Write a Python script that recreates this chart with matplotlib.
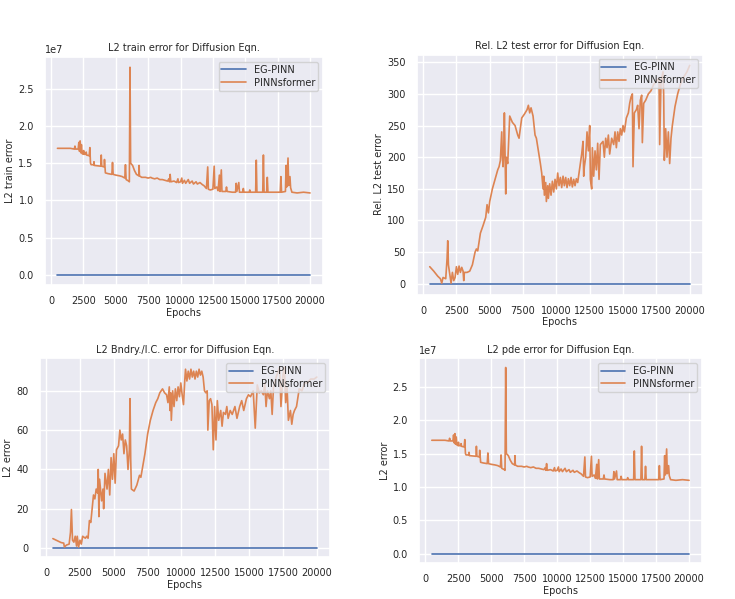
import numpy as np
import matplotlib
matplotlib.use('Agg')
import matplotlib.pyplot as plt
import seaborn as sns

# EG-PINN stays at ~0 for all curves
eg_epochs = [500, 20000]
eg_vals = [0.0, 0.0]

# PINNsformer: train error (units of 1e7) -- pde error curve looks identical
train_epochs = [500, 1000, 1500, 1800, 1850, 1900, 2100, 2150, 2200, 2250, 2300, 2350, 2400, 2500, 2520, 2550,
                2700, 2720, 2750, 2950, 3000, 3050, 3100, 3300, 3320, 3350, 3850, 3880, 3920, 4100, 4130, 4200,
                4400, 4700, 4750, 4800, 5000, 5300, 5500, 5700, 5750, 5800, 5900, 6000, 6050, 6100, 6150, 6300,
                6450, 6600, 6780, 6800, 6830, 7000, 7300, 7500, 7700, 7800, 8000, 8200, 8400, 8600, 8800, 9000,
                9100, 9150, 9200, 9250, 9500, 9700, 9800, 9850, 10000, 10100, 10150, 10300, 10400, 10600, 10700,
                10900, 11000, 11200, 11300, 11500, 11700, 11800, 11900, 12000, 12100, 12150, 12300, 12500, 12600,
                12650, 12800, 12900, 13000, 13050, 13150, 13200, 13500, 13550, 13600, 14000, 14250, 14300, 14350,
                14500, 14550, 14800, 14850, 14900, 15300, 15350, 15400, 15800, 15850, 15900, 16350, 16400, 16450,
                16650, 16700, 16750, 17700, 17750, 17800, 18100, 18150, 18200, 18300, 18350, 18450, 18500, 18600,
                19000, 19500, 20000]
train_vals = [1.70, 1.70, 1.70, 1.69, 1.73, 1.69, 1.69, 1.78, 1.66, 1.80, 1.64, 1.75, 1.63, 1.62, 1.67, 1.62,
              1.62, 1.65, 1.61, 1.60, 1.71, 1.50, 1.48, 1.48, 1.52, 1.47, 1.46, 1.61, 1.46, 1.45, 1.55, 1.37,
              1.36, 1.35, 1.51, 1.35, 1.34, 1.33, 1.32, 1.30, 1.48, 1.28, 1.27, 1.26, 1.25, 2.79, 1.50, 1.47,
              1.40, 1.35, 1.33, 1.47, 1.33, 1.31, 1.31, 1.30, 1.31, 1.30, 1.29, 1.30, 1.28, 1.28, 1.27, 1.26,
              1.29, 1.25, 1.35, 1.25, 1.26, 1.24, 1.29, 1.24, 1.25, 1.30, 1.23, 1.27, 1.23, 1.28, 1.23,
              1.26, 1.22, 1.25, 1.22, 1.24, 1.21, 1.20, 1.18, 1.16, 1.45, 1.15, 1.14, 1.15, 1.46,
              1.16, 1.18, 1.13, 1.34, 1.12, 1.41, 1.12, 1.12, 1.18, 1.12, 1.11, 1.11, 1.23, 1.12,
              1.24, 1.11, 1.11, 1.16, 1.11, 1.11, 1.14, 1.11, 1.11, 1.54, 1.11, 1.11, 1.61, 1.11,
              1.11, 1.31, 1.11, 1.11, 1.32, 1.11, 1.12, 1.47, 1.18, 1.57, 1.20, 1.32, 1.17, 1.11,
              1.10, 1.11, 1.10]
pde_epochs = list(train_epochs)
pde_vals = list(train_vals)

# PINNsformer: relative L2 test error
test_epochs = [500, 800, 1100, 1300, 1400, 1500, 1700, 1800, 1850, 1900, 2000, 2100, 2200, 2300, 2400, 2500,
               2600, 2700, 2800, 2900, 3000, 3050, 3100, 3300, 3500, 3700, 3900, 4000, 4100, 4300, 4500, 4700,
               4800, 4900, 5000, 5200, 5400, 5600, 5700, 5800, 5900, 5950, 6000, 6050, 6100, 6200, 6250, 6350,
               6500, 6700, 6900, 7100, 7200, 7400, 7600, 7800, 7900, 8000, 8100, 8250, 8400, 8500, 8650, 8800,
               8900, 9000, 9050, 9100, 9200, 9250, 9350, 9400, 9500, 9600, 9700, 9800, 9900, 10000, 10100,
               10200, 10300, 10400, 10500, 10600, 10700, 10800, 10900, 11000, 11100, 11200, 11300, 11400, 11500,
               11600, 11700, 11800, 11900, 12000, 12050, 12100, 12200, 12300, 12400, 12500, 12550, 12650, 12700,
               12800, 12900, 13000, 13100, 13200, 13300, 13500, 13600, 13700, 13800, 13900, 14000, 14150, 14300,
               14400, 14500, 14600, 14700, 14800, 14900, 15000, 15100, 15250, 15400, 15500, 15600, 15700, 15750,
               15850, 16000, 16100, 16200, 16300, 16400, 16450, 16550, 16700, 16900, 17100, 17300, 17500, 17700,
               17750, 17850, 18000, 18050, 18100, 18200, 18300, 18400, 18500, 18600, 18700, 18900, 19100, 19300,
               19500, 19800, 20000]
test_vals = [27, 20, 12, 8, 1, 10, 8, 40, 68, 30, 15, 1, 18, 5, 10, 27,
             15, 28, 18, 26, 20, 5, 18, 18, 20, 30, 50, 55, 52, 80, 92, 105,
             125, 112, 130, 150, 165, 180, 185, 195, 240, 200, 185, 210, 270, 142, 200, 190,
             265, 255, 250, 235, 230, 262, 268, 275, 282, 270, 278, 265, 235, 230, 210, 190,
             175, 150, 170, 140, 160, 130, 155, 135, 158, 140, 162, 145, 165, 150, 175,
             155, 168, 152, 170, 155, 168, 152, 166, 155, 168, 153, 165, 155, 166,
             160, 175, 190, 205, 225, 170, 185, 200, 240, 210, 250, 165, 150, 215,
             170, 210, 180, 222, 165, 220, 225, 200, 230, 215, 235, 205, 230, 220,
             240, 215, 240, 225, 245, 235, 250, 240, 262, 270, 285, 295, 300, 185,
             270, 275, 282, 245, 290, 298, 223, 285, 290, 300, 305, 315, 320, 325,
             220, 320, 335, 300, 195, 245, 200, 240, 190, 230, 250, 280, 300, 315,
             325, 335, 345]

# PINNsformer: boundary / initial condition error
bc_epochs = [500, 800, 1100, 1300, 1350, 1500, 1700, 1800, 1870, 1950, 2050, 2150, 2250, 2300, 2400, 2500,
             2600, 2700, 2900, 3000, 3100, 3200, 3300, 3500, 3600, 3700, 3800, 3850, 3900, 3950, 4100, 4200,
             4250, 4350, 4500, 4600, 4700, 4800, 4900, 5000, 5100, 5200, 5350, 5450, 5550, 5650, 5750, 5850,
             5950, 6050, 6150, 6200, 6250, 6300, 6500, 6700, 6900, 7000, 7150, 7300, 7500, 7700, 7900, 8100,
             8250, 8400, 8600, 8750, 8900, 9000, 9100, 9150, 9200, 9250, 9350, 9450, 9550, 9650, 9750, 9850,
             9950, 10050, 10150, 10250, 10300, 10400, 10500, 10600, 10700, 10800, 10900, 11000, 11100, 11200,
             11300, 11400, 11500, 11600, 11700, 11800, 11900, 11950, 12050, 12150, 12250, 12350, 12450, 12550,
             12650, 12750, 12900, 13000, 13100, 13250, 13350, 13450, 13600, 13750, 13950, 14100, 14300, 14450,
             14600, 14800, 14950, 15100, 15300, 15450, 15600, 15750, 15900, 16050, 16150, 16250, 16350, 16500,
             16600, 16700, 16800, 17000, 17250, 17350, 17500, 17600, 17700, 17800, 17900, 18050, 18150, 18250,
             18350, 18500, 18700, 18900, 19100, 19300, 19550, 19800, 20000]
bc_vals = [4.8, 3.8, 2.8, 2.5, 0.5, 1.5, 2, 8, 19.6, 4, 3, 6, 1, 6, 0.5, 4,
           2, 6, 5, 6, 5, 14, 13, 27, 25, 30, 28, 40, 16, 35, 24, 30,
           20, 38, 30, 40, 27, 46, 35, 48, 33, 50, 52, 60, 55, 58, 48, 55,
           52, 40, 50, 76, 45, 30, 29, 32, 37, 36, 42, 48, 58, 65, 70, 74,
           76, 79, 81, 79, 78, 74, 82, 70, 79, 65, 80, 72, 81, 75, 82, 77,
           84, 78, 73, 86, 91, 85, 90, 86, 91, 87, 90, 86, 90, 87,
           91, 88, 90, 87, 80, 79, 80, 60, 75, 76, 73, 50, 72, 55,
           75, 65, 70, 62, 69, 68, 72, 66, 70, 68, 72, 66, 72, 75,
           70, 76, 78, 77, 80, 61, 83, 79, 80, 78, 84, 72, 80, 76,
           80, 68, 82, 87, 92, 72, 88, 92, 74, 82, 65, 70, 63, 68,
           70, 72, 81, 80, 84, 84, 86, 86, 87]

sns.set_theme(style='darkgrid')
plt.rcParams['font.family'] = ['DejaVu Sans']

blue = sns.color_palette('deep')[0]
orange = sns.color_palette('deep')[1]

fig = plt.figure(figsize=(7.35, 5.99), dpi=100)

panels = [
    ([0.061, 0.524, 0.378, 0.381], train_epochs, train_vals, 1e7,
     'L2 train error for Diffusion Eqn.', 'L2 train error'),
    ([0.567, 0.508, 0.389, 0.401], test_epochs, test_vals, 1,
     'Rel. L2 test error for Diffusion Eqn.', 'Rel. L2 test error'),
    ([0.054, 0.070, 0.395, 0.332], bc_epochs, bc_vals, 1,
     'L2 Bndry./I.C. error for Diffusion Eqn.', 'L2 error'),
    ([0.570, 0.060, 0.385, 0.342], pde_epochs, pde_vals, 1e7,
     'L2 pde error for Diffusion Eqn.', 'L2 error'),
]

fs = 7
for rect, ep, vals, scale, title, ylab in panels:
    ax = fig.add_axes(rect)
    ax.plot(eg_epochs, np.array(eg_vals) * scale, color=blue, lw=1.2, label='EG-PINN')
    ax.plot(ep, np.array(vals) * scale, color=orange, lw=1.2, label='PINNsformer')
    ax.set_title(title, fontsize=fs, pad=4)
    ax.set_xlabel('Epochs', fontsize=fs, labelpad=1)
    ax.set_ylabel(ylab, fontsize=fs, labelpad=2)
    ax.set_xticks([0, 2500, 5000, 7500, 10000, 12500, 15000, 17500, 20000])
    ax.tick_params(labelsize=fs, pad=2)
    ax.yaxis.get_offset_text().set_fontsize(fs)
    ax.legend(loc='upper right', fontsize=fs, borderpad=0.3, labelspacing=0.3, handlelength=2.5)

fig.savefig('out.png', dpi=100)
